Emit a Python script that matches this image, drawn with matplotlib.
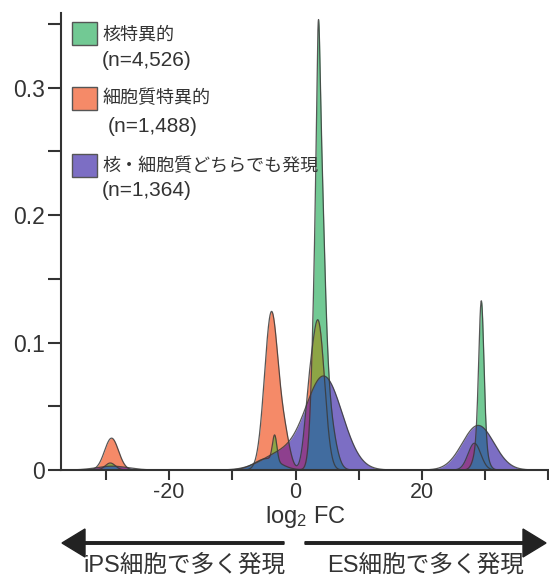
import numpy as np
import matplotlib
matplotlib.use("Agg")
import matplotlib.pyplot as plt
from matplotlib.patches import Rectangle, FancyArrow

plt.rcParams["font.family"] = ["Liberation Sans", "Noto Sans CJK JP", "DejaVu Sans"]
plt.rcParams["mathtext.default"] = "regular"

# ── Data (density peaks: centre, height, width) ──────────────────────────────
nuc_center = [-29.3, -3.3, -4.5, 3.6, 3.7, 5.0, 29.4, 29.3]
nuc_height = [0.0055, 0.020, 0.009, 0.08, 0.252, 0.05, 0.105, 0.028]
nuc_width = [0.8, 0.35, 2.0, 0.25, 0.75, 1.1, 0.4, 0.8]

cyt_center = [-29.1, -3.8, -1.6, 2.0, 3.6, 28.3]
cyt_height = [0.025, 0.124, 0.02, 0.035, 0.115, 0.021]
cyt_width = [1.1, 1.1, 0.8, 0.7, 1.0, 1.0]

both_center = [-29.0, -2.5, 4.5, 28.9]
both_height = [0.003, 0.012, 0.073, 0.035]
both_width = [2.5, 3.0, 2.9, 2.5]

labels = ["核特異的", "細胞質特異的", "核・細胞質どちらでも発現"]
counts = ["(n=4,526)", "(n=1,488)", "(n=1,364)"]

# ── Colours ──────────────────────────────────────────────────────────────────
C_NUC = "#72C994"
C_CYT = "#F58A68"
C_BOTH = "#7C6EC4"
C_NUC_CYT = "#8DA545"
C_BOTH_CYT = "#8E408E"
C_BOTH_NUC = "#416C9F"
EDGE = "#3a3a3a"
TXT = "#333333"


def density(x, centers, heights, widths):
    y = np.zeros_like(x)
    for c, h, w in zip(centers, heights, widths):
        y += h * np.exp(-0.5 * ((x - c) / w) ** 2)
    return y


x = np.linspace(-37, 40, 3000)
y_nuc = density(x, nuc_center, nuc_height, nuc_width)
y_cyt = density(x, cyt_center, cyt_height, cyt_width)
y_both = density(x, both_center, both_height, both_width)

fig = plt.figure(figsize=(5.49, 5.77), dpi=100)
ax = fig.add_axes([61 / 549, 107 / 577, 488 / 549, 457 / 577])

# layered fills, overlaps get their own blended colour
ax.fill_between(x, 0, y_nuc, color=C_NUC, lw=0)
ax.fill_between(x, 0, y_cyt, color=C_CYT, lw=0)
ax.fill_between(x, 0, np.minimum(y_nuc, y_cyt), color=C_NUC_CYT, lw=0)
ax.fill_between(x, 0, y_both, color=C_BOTH, lw=0)
ax.fill_between(x, 0, np.minimum(y_both, y_cyt), color=C_BOTH_CYT, lw=0)
ax.fill_between(x, 0, np.minimum(y_both, y_nuc), color=C_BOTH_NUC, lw=0)
for y in (y_nuc, y_cyt, y_both):
    ax.plot(x, y, color=EDGE, lw=0.9, alpha=0.85)

ax.set_xlim(-37.1, 40.1)
ax.set_ylim(0, 0.3586)

for s in ("top", "right"):
    ax.spines[s].set_visible(False)
for s in ("left", "bottom"):
    ax.spines[s].set_linewidth(1.5)
    ax.spines[s].set_color(TXT)
    ax.spines[s].set_zorder(5)

ax.set_xticks(np.arange(-30, 41, 10))
ax.set_xticklabels(["", "-20", "", "0", "", "20", "", ""])
ax.set_yticks(np.arange(0, 0.36, 0.05))
ax.set_yticklabels(["0", "", "0.1", "", "0.2", "", "0.3", ""])
ax.tick_params(axis="x", direction="out", length=7, width=1.5, color=TXT,
               labelsize=15.5, labelcolor=TXT, pad=2)
ax.tick_params(axis="y", direction="out", length=9.5, width=1.5, color=TXT,
               labelsize=16.5, labelcolor=TXT, pad=2)

ax.set_xlabel("log$_2$ FC", fontsize=17, color=TXT, labelpad=0)

# ── Legend (drawn by hand to match the layout) ───────────────────────────────
box_colors = [C_NUC, C_CYT, C_BOTH]
box_top = [22, 87, 154]
label_y = [35, 98, 166]
count_y = [61, 127, 191]
count_x = [102, 108, 102]
for col, bt, ly, cy, cx, lab, cnt in zip(box_colors, box_top, label_y, count_y,
                                          count_x, labels, counts):
    fig.patches.append(Rectangle((72 / 549, 1 - (bt + 23) / 577), 25 / 549, 23 / 577,
                                 transform=fig.transFigure, facecolor=col,
                                 edgecolor="#555555", lw=1.0))
    fig.text(102 / 549, 1 - ly / 577, lab, fontsize=13, va="center", ha="left",
             color=TXT)
    fig.text(cx / 549, 1 - cy / 577, cnt, fontsize=15, va="center", ha="left",
             color=TXT)

# ── Direction arrows below the axis ──────────────────────────────────────────
arrow_y = 1 - 543 / 577
fig.patches.append(FancyArrow(
    284 / 549, arrow_y, -222 / 549, 0, width=2.5 / 577, head_width=28 / 577,
    head_length=23 / 549, length_includes_head=True, color="#222222",
    transform=fig.transFigure))
fig.patches.append(FancyArrow(
    305 / 549, arrow_y, 241 / 549, 0, width=2.5 / 577, head_width=28 / 577,
    head_length=23 / 549, length_includes_head=True, color="#222222",
    transform=fig.transFigure))
fig.text(184 / 549, 1 - 566 / 577, "iPS細胞で多く発現", fontsize=17,
         ha="center", va="center", color=TXT)
fig.text(426 / 549, 1 - 566 / 577, "ES細胞で多く発現", fontsize=17,
         ha="center", va="center", color=TXT)

fig.savefig("out.png", dpi=100)
